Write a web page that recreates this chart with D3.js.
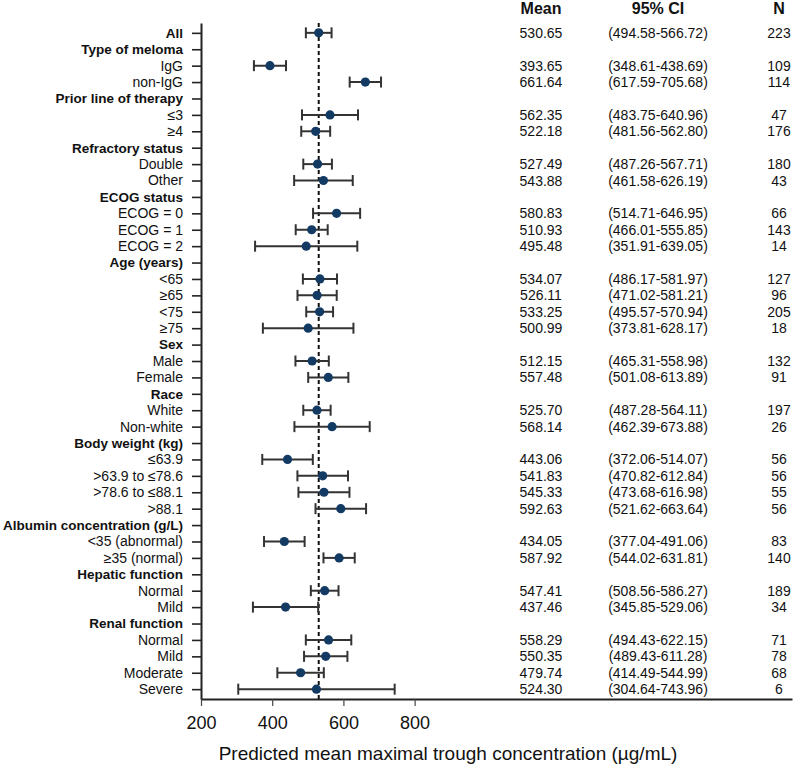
<!DOCTYPE html>
<html>
<head>
<meta charset="utf-8">
<script src="https://cdn.jsdelivr.net/npm/d3@7"></script>
<style>
  html, body { margin: 0; padding: 0; background: #fff; }
  svg { display: block; font-family: "Liberation Sans", Arial, Helvetica, sans-serif; }
</style>
</head>
<body>
<svg id="chart" width="798" height="766"></svg>
<script>
// ---- data ----
const labels = ["All","Type of meloma","IgG","non-IgG","Prior line of therapy","≤3","≥4",
  "Refractory status","Double","Other","ECOG status","ECOG = 0","ECOG = 1","ECOG = 2",
  "Age (years)","<65","≥65","<75","≥75","Sex","Male","Female","Race","White","Non-white",
  "Body weight (kg)","≤63.9",">63.9 to ≤78.6",">78.6 to ≤88.1",">88.1",
  "Albumin concentration (g/L)","<35 (abnormal)","≥35 (normal)","Hepatic function","Normal","Mild",
  "Renal function","Normal","Mild","Moderate","Severe"];
const boldRows = [1,1,0,0,1,0,0,1,0,0,1,0,0,0,1,0,0,0,0,1,0,0,1,0,0,1,0,0,0,0,1,0,0,1,0,0,1,0,0,0,0];
const means = [530.65,null,393.65,661.64,null,562.35,522.18,null,527.49,543.88,null,580.83,510.93,495.48,
  null,534.07,526.11,533.25,500.99,null,512.15,557.48,null,525.70,568.14,null,443.06,541.83,545.33,592.63,
  null,434.05,587.92,null,547.41,437.46,null,558.29,550.35,479.74,524.30];
const lows = [494.58,null,348.61,617.59,null,483.75,481.56,null,487.26,461.58,null,514.71,466.01,351.91,
  null,486.17,471.02,495.57,373.81,null,465.31,501.08,null,487.28,462.39,null,372.06,470.82,473.68,521.62,
  null,377.04,544.02,null,508.56,345.85,null,494.43,489.43,414.49,304.64];
const highs = [566.72,null,438.69,705.68,null,640.96,562.80,null,567.71,626.19,null,646.95,555.85,639.05,
  null,581.97,581.21,570.94,628.17,null,558.98,613.89,null,564.11,673.88,null,514.07,612.84,616.98,663.64,
  null,491.06,631.81,null,586.27,529.06,null,622.15,611.28,544.99,743.96];
const ns = [223,null,109,114,null,47,176,null,180,43,null,66,143,14,null,127,96,205,18,null,132,91,null,197,26,
  null,56,56,55,56,null,83,140,null,189,34,null,71,78,68,6];
const xTicks = [200,400,600,800];
const refValue = means[0];
const colHeaders = ["Mean","95% CI","N"];
const xTitle = "Predicted mean maximal trough concentration (µg/mL)";

// ---- layout ----
const svg = d3.select("#chart");
const idx = labels.map((d,i)=>i);
const x = d3.scaleLinear().domain([200, 1860]).range([201, 792]);
const y = d3.scalePoint().domain(idx).range([23, 699]).padding(0.6);
const axisY = 699;

// reference dashed line
svg.append("line")
  .attr("x1", x(refValue)).attr("x2", x(refValue))
  .attr("y1", 23).attr("y2", axisY)
  .attr("stroke", "#111").attr("stroke-width", 2)
  .attr("stroke-dasharray", "4,3");

// y axis
const gy = svg.append("g").attr("transform", "translate(201,0)")
  .call(d3.axisLeft(y).tickSize(9).tickSizeOuter(0).tickPadding(9).tickFormat(i => labels[i]));
gy.select(".domain").attr("stroke", "#222").attr("stroke-width", 2);
gy.selectAll(".tick line").attr("stroke", "#222").attr("stroke-width", 1.6);
gy.selectAll(".tick text")
  .attr("font-size", i => boldRows[i] ? 13.5 : 14).attr("fill", "#111")
  .attr("font-weight", i => boldRows[i] ? "bold" : "normal")
  .attr("font-family", "'Liberation Sans', Arial, sans-serif");

// x axis
const gx = svg.append("g").attr("transform", `translate(0,${axisY})`)
  .call(d3.axisBottom(x).tickValues(xTicks).tickSize(7).tickSizeOuter(0).tickPadding(10));
gx.select(".domain").attr("stroke", "#222").attr("stroke-width", 2);
gx.selectAll(".tick line").attr("stroke", "#444").attr("stroke-width", 1.2);
gx.selectAll(".tick text").attr("font-size", 18).attr("fill", "#111")
  .attr("font-family", "'Liberation Sans', Arial, sans-serif");

// axis title
svg.append("text")
  .attr("x", 448).attr("y", 760)
  .attr("text-anchor", "middle")
  .attr("font-size", 19).attr("fill", "#111")
  .text(xTitle);

// error bars
const dataIdx = idx.filter(i => means[i] !== null);
const bars = svg.append("g").selectAll("g").data(dataIdx).join("g");
bars.append("line")
  .attr("x1", i => x(lows[i])).attr("x2", i => x(highs[i]))
  .attr("y1", i => y(i)).attr("y2", i => y(i))
  .attr("stroke", "#333").attr("stroke-width", 2);
bars.append("line")
  .attr("x1", i => x(lows[i])).attr("x2", i => x(lows[i]))
  .attr("y1", i => y(i) - 5.5).attr("y2", i => y(i) + 5.5)
  .attr("stroke", "#333").attr("stroke-width", 2);
bars.append("line")
  .attr("x1", i => x(highs[i])).attr("x2", i => x(highs[i]))
  .attr("y1", i => y(i) - 5.5).attr("y2", i => y(i) + 5.5)
  .attr("stroke", "#333").attr("stroke-width", 2);
bars.append("circle")
  .attr("cx", i => x(means[i])).attr("cy", i => y(i))
  .attr("r", 4.6).attr("fill", "#123a63");

// table
const colX = [541, 658, 779];
svg.append("g").selectAll("text").data(colHeaders).join("text")
  .attr("x", (d,k) => colX[k]).attr("y", 14)
  .attr("text-anchor", "middle")
  .attr("font-size", 16).attr("font-weight", "bold").attr("fill", "#111")
  .text(d => d);

const rows = svg.append("g").selectAll("g").data(dataIdx).join("g")
  .attr("transform", i => `translate(0,${y(i) + 5})`)
  .attr("font-size", 14).attr("fill", "#111").attr("text-anchor", "middle");
rows.append("text").attr("x", colX[0]).text(i => means[i].toFixed(2));
rows.append("text").attr("x", colX[1]).text(i => `(${lows[i].toFixed(2)}-${highs[i].toFixed(2)})`);
rows.append("text").attr("x", colX[2]).text(i => ns[i]);
</script>
</body>
</html>
